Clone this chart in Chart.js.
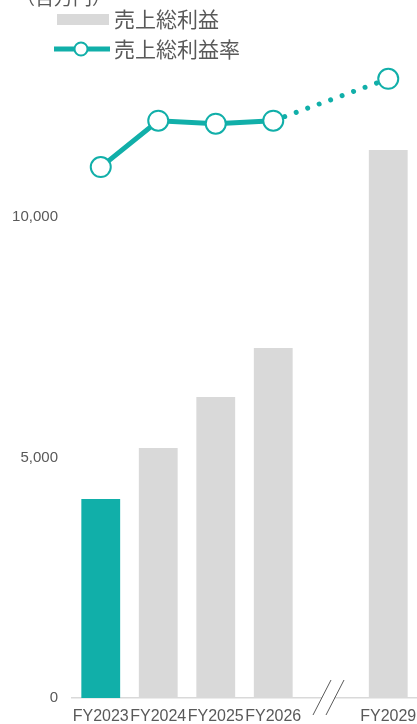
<!DOCTYPE html>
<html>
<head>
<meta charset="utf-8">
<script src="https://cdn.jsdelivr.net/npm/chart.js@4/dist/chart.umd.min.js"></script>
<style>
  html, body { margin: 0; padding: 0; background: #fff; }
  #wrap { width: 417px; height: 724px; }
</style>
</head>
<body>
<div id="wrap"><canvas id="gpChart" width="417" height="724"></canvas></div>
<script>
// Daten
const categories = ['FY2023', 'FY2024', 'FY2025', 'FY2026', '', 'FY2029'];
const grossProfit = [4140, 5200, 6260, 7280, null, 11400];   // 売上総利益 (百万円)
const grossMargin = [35.5, 38.6, 38.4, 38.6, null, 41.4];    // 売上総利益率 (%)
const yTicks = [0, 5000, 10000];

const TEAL = '#11afa9';
const GRAY = '#d9d9d9';
const TEXT = '#595959';
const latinFont = "'Liberation Sans', Arial, sans-serif";
const cjkFont = "'Noto Sans CJK JP', sans-serif";

// Legende, Einheit und Achsenbruch selbst zeichnen
const extrasPlugin = {
    id: 'extras',
    afterDraw(chart) {
        const ctx = chart.ctx;
        const bottom = chart.chartArea.bottom;
        ctx.save();

        // Einheit (oben abgeschnitten)
        ctx.fillStyle = TEXT;
        ctx.font = '19px ' + cjkFont;
        ctx.textBaseline = 'middle';
        ctx.textAlign = 'left';
        ctx.fillText('（百万円）', 16, -2);

        // Legende: Balken
        ctx.fillStyle = GRAY;
        ctx.fillRect(57, 14, 52, 11);
        ctx.fillStyle = TEXT;
        ctx.font = '21px ' + cjkFont;
        ctx.fillText('売上総利益', 114, 19);

        // Legende: Linie
        ctx.strokeStyle = TEAL;
        ctx.lineWidth = 5;
        ctx.beginPath();
        ctx.moveTo(54, 49);
        ctx.lineTo(110, 49);
        ctx.stroke();
        ctx.beginPath();
        ctx.arc(81, 49, 6.5, 0, Math.PI * 2);
        ctx.fillStyle = '#fff';
        ctx.fill();
        ctx.lineWidth = 2;
        ctx.stroke();
        ctx.fillStyle = TEXT;
        ctx.fillText('売上総利益率', 114, 49);

        // Achsenbruch //
        ctx.fillStyle = '#fff';
        ctx.fillRect(322, bottom - 3, 12, 6);
        ctx.strokeStyle = TEXT;
        ctx.lineWidth = 1;
        ctx.beginPath();
        ctx.moveTo(331, bottom - 18);
        ctx.lineTo(313, bottom + 17);
        ctx.moveTo(344, bottom - 18);
        ctx.lineTo(326, bottom + 17);
        ctx.stroke();

        ctx.restore();
    }
};

const gpChart = new Chart(document.getElementById('gpChart'), {
    type: 'bar',
    data: {
        labels: categories,
        datasets: [
            {
                type: 'line',
                label: '売上総利益率',
                data: grossMargin,
                yAxisID: 'y1',
                order: 0,
                borderColor: TEAL,
                borderWidth: 5,
                borderCapStyle: 'round',
                spanGaps: true,
                clip: false,
                pointRadius: 10,
                pointHoverRadius: 10,
                pointBorderWidth: 2,
                pointBackgroundColor: '#fff',
                pointBorderColor: TEAL,
                segment: {
                    // gepunktet bis zum Planjahr
                    borderDash: ctx => ctx.p1DataIndex === 5 ? [0.01, 12.2] : undefined
                }
            },
            {
                label: '売上総利益',
                data: grossProfit,
                yAxisID: 'y',
                order: 1,
                backgroundColor: [TEAL, GRAY, GRAY, GRAY, GRAY, GRAY],
                barPercentage: 0.675,
                categoryPercentage: 1.0
            }
        ]
    },
    options: {
        responsive: false,
        animation: false,
        layout: { autoPadding: false, padding: { top: 25, left: 0, right: 0, bottom: 0 } },
        plugins: {
            legend: { display: false },
            tooltip: { enabled: false }
        },
        scales: {
            x: {
                grid: { display: false, drawTicks: false },
                border: { display: true, color: GRAY, width: 1.5 },
                ticks: {
                    color: TEXT,
                    font: { family: latinFont, size: 16, lineHeight: 2.3 },
                    padding: 0,
                    autoSkip: false,
                    maxRotation: 0,
                    minRotation: 0
                },
                afterFit: scale => {
                    scale.height = 26;
                    scale.paddingLeft = 0;
                    scale.paddingRight = 0;
                }
            },
            y: {
                min: 0,
                max: 14000,
                grid: { display: false, drawTicks: false },
                border: { display: false },
                ticks: {
                    autoSkip: false,
                    color: TEXT,
                    font: { family: latinFont, size: 15 },
                    padding: 14,
                    callback: value => value.toLocaleString('en-US')
                },
                afterBuildTicks: scale => {
                    scale.ticks = yTicks.map(v => ({ value: v }));
                },
                afterFit: scale => {
                    scale.width = 72;
                    scale.paddingTop = 0;
                    scale.paddingBottom = 0;
                }
            },
            y1: {
                display: false,
                min: 0,
                max: 45
            }
        }
    },
    plugins: [extrasPlugin]
});
</script>
</body>
</html>
